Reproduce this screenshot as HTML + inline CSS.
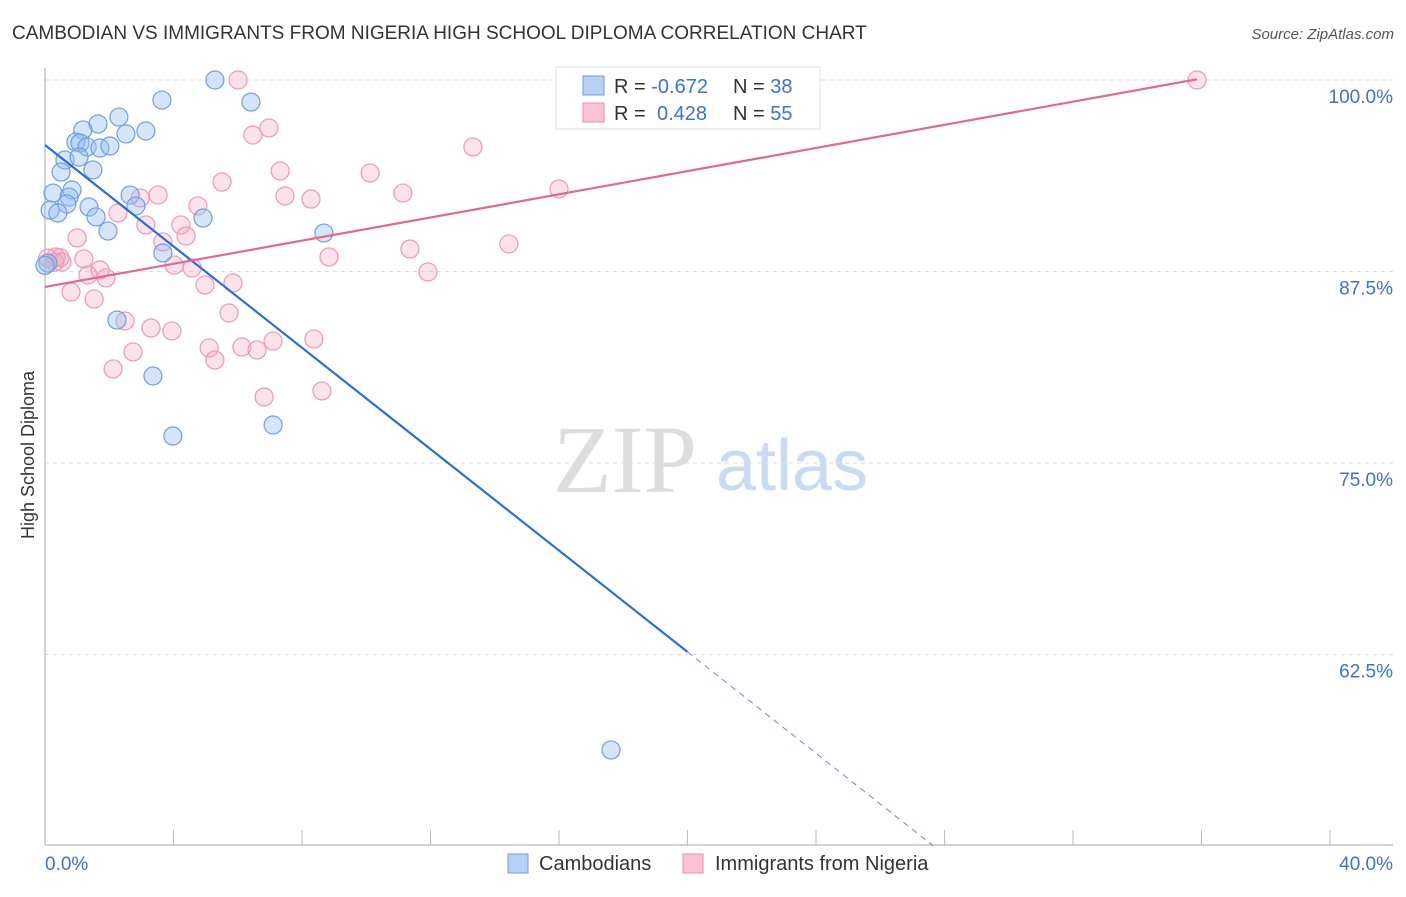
<!DOCTYPE html>
<html><head><meta charset="utf-8"><style>
body{margin:0;background:#fff;font-family:"Liberation Sans",sans-serif;}
svg text{font-family:"Liberation Sans",sans-serif;}
</style></head><body>
<svg id="c" width="1406" height="892" viewBox="0 0 1406 892" xmlns="http://www.w3.org/2000/svg">
<text x="12" y="39" font-size="19" fill="#333">CAMBODIAN VS IMMIGRANTS FROM NIGERIA HIGH SCHOOL DIPLOMA CORRELATION CHART</text>
<text x="1394" y="39" font-size="15" fill="#555" font-style="italic" text-anchor="end">Source: ZipAtlas.com</text>
<text x="553" y="492" font-size="96" fill="#ddd" font-family="Liberation Serif" style="font-family:'Liberation Serif',serif">ZIP</text>
<text x="716" y="490" font-size="72" fill="#c9daf2">atlas</text>
<text transform="translate(34,455) rotate(-90)" font-size="18" fill="#333" text-anchor="middle">High School Diploma</text>
<g id="grid"></g><g id="pts"></g><g id="lines"></g>
<g>
<rect x="556" y="67" width="264" height="62" fill="#fff" stroke="#ddd"/>
<rect x="583" y="76" width="21" height="19" fill="#b7d1f5" stroke="#6e9fe0"/>
<rect x="583" y="103" width="21" height="19" fill="#f9c3d2" stroke="#ea8fab"/>
<text x="614" y="93" font-size="20" fill="#333">R = <tspan fill="#3a73d0">-0.672</tspan></text>
<text x="733" y="93" font-size="20" fill="#333">N = <tspan fill="#3a73d0">38</tspan></text>
<text x="614" y="120" font-size="20" fill="#333">R = <tspan fill="#3a73d0" x="657">0.428</tspan></text>
<text x="733" y="120" font-size="20" fill="#333">N = <tspan fill="#3a73d0">55</tspan></text>
</g>
<g>
<rect x="508" y="854" width="20" height="19" fill="#b7d1f5" stroke="#6e9fe0"/>
<text x="539" y="870" font-size="20" fill="#333">Cambodians</text>
<rect x="683" y="854" width="20" height="19" fill="#f9c3d2" stroke="#ea8fab"/>
<text x="715" y="870" font-size="20" fill="#333">Immigrants from Nigeria</text>
</g>
</svg>
<script>
const xTicks=[0,4,8,12,16,20,24,28,32,36,40];
const yTicks=[100,87.5,75,62.5];
const yTickLabels=["100.0%","87.5%","75.0%","62.5%"];
const blueX=[5.29,3.64,6.41,2.30,1.65,1.18,3.14,2.52,0.96,1.09,1.31,1.71,2.02,0.62,1.06,1.49,0.50,0.25,0.84,0.75,0.68,2.65,2.83,1.37,0.16,0.40,1.59,4.92,1.96,8.68,3.67,0.09,2.24,3.36,3.98,7.10,17.62,0.0];
const blueY=[100,98.69,98.56,97.58,97.13,96.74,96.67,96.48,95.95,95.89,95.63,95.56,95.69,94.78,94.97,94.13,93.99,92.62,92.82,92.36,91.91,92.49,91.78,91.71,91.51,91.32,91.06,90.99,90.14,90.01,88.71,88.05,84.33,80.68,76.76,77.48,56.27,87.9];
const pinkX=[6.01,16.62,35.86,6.47,6.97,13.32,7.32,10.12,5.51,11.14,16.0,7.47,3.52,2.96,8.28,4.76,2.27,3.14,4.23,4.39,1.0,3.67,11.36,14.44,8.84,0.34,1.21,0.53,4.02,4.58,11.92,1.71,1.34,1.90,4.98,5.85,0.81,1.53,5.73,2.49,3.30,3.95,8.37,7.10,5.11,6.13,6.60,2.74,5.29,2.12,8.62,6.82,0.09,0.47,0.3];
const pinkY=[100,100,100,96.41,96.87,95.63,94.06,93.93,93.34,92.62,92.89,92.43,92.49,92.30,92.23,91.78,91.32,90.54,90.54,89.82,89.69,89.43,88.97,89.30,88.45,88.45,88.32,88.12,87.92,87.73,87.47,87.60,87.27,87.08,86.62,86.75,86.16,85.70,84.79,84.27,83.81,83.62,83.09,82.96,82.51,82.57,82.38,82.25,81.72,81.14,79.70,79.31,88.38,88.4,88.1];
const blueTrend=[95.76,-1.6545];
const pinkTrend=[86.49,0.378];
const NS="http://www.w3.org/2000/svg";
const X=v=>45+v*32.125, Y=v=>80+(100-v)*15.32;
function mk(t,a,p){const e=document.createElementNS(NS,t);for(const k in a)e.setAttribute(k,a[k]);document.getElementById(p).appendChild(e);return e;}
let e;
yTicks.forEach((t,i)=>{
e=mk('line',{x1:45,x2:1393,y1:Y(t),y2:Y(t),stroke:'#ddd','stroke-dasharray':'4,4'},'grid');


e=mk('text',{x:1393,y:Y(t)+23,'font-size':19,fill:'#3a73d0','text-anchor':'end'},'grid');e.textContent=yTickLabels[i];


});
xTicks.forEach(t=>{
e=mk('line',{x1:X(t),x2:X(t),y1:830,y2:845,stroke:'#bbb'},'grid');


});
e=mk('line',{x1:45,x2:45,y1:68,y2:845,stroke:'#aaa'},'grid');


e=mk('line',{x1:45,x2:1393,y1:845,y2:845,stroke:'#aaa'},'grid');


e=mk('text',{x:45,y:870,'font-size':19,fill:'#3a73d0'},'grid');e.textContent='0.0%';


e=mk('text',{x:1393,y:870,'font-size':19,fill:'#3a73d0','text-anchor':'end'},'grid');e.textContent='40.0%';


pinkX.forEach((v,i)=>{
e=mk('circle',{cx:X(v),cy:Y(pinkY[i]),r:9,fill:'rgba(244,160,186,0.3)',stroke:'#ec9ab3','stroke-width':1.2},'pts');


});
blueX.forEach((v,i)=>{
e=mk('circle',{cx:X(v),cy:Y(blueY[i]),r:9,fill:'rgba(150,190,240,0.4)',stroke:'#6e9fe0','stroke-width':1.2},'pts');


});
const bAt=x=>blueTrend[0]+blueTrend[1]*x, pAt=x=>pinkTrend[0]+pinkTrend[1]*x;
const bEnd=(blueTrend[0]-50)/-blueTrend[1];
e=mk('line',{x1:X(0),y1:Y(bAt(0)),x2:X(20),y2:Y(bAt(20)),stroke:'#2a6fd6','stroke-width':2.2},'lines');


e=mk('line',{x1:X(20),y1:Y(bAt(20)),x2:X(bEnd),y2:Y(50),stroke:'#5b8fdc','stroke-width':1,'stroke-dasharray':'6,5'},'lines');


e=mk('line',{x1:X(0),y1:Y(pAt(0)),x2:X(35.86),y2:Y(pAt(35.86)),stroke:'#e5668f','stroke-width':2.2},'lines');


</script>
</body></html>
